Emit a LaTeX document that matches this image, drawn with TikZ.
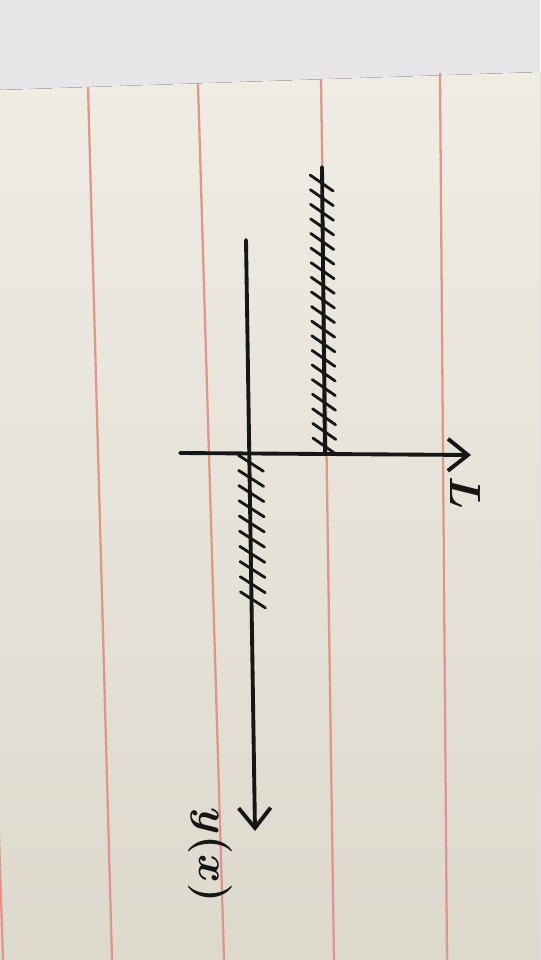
\documentclass[tikz,border=0pt]{standalone}
\usepackage{tikz}
\usepackage{xcolor}
\usetikzlibrary{arrows.meta,calc}

\definecolor{offpaper}{RGB}{231,229,232}
\definecolor{papertop}{RGB}{239,236,228}
\definecolor{paperbot}{RGB}{221,217,205}
\definecolor{marginred}{RGB}{226,150,136}
\definecolor{ink}{RGB}{22,22,22}

\begin{document}
\begin{tikzpicture}[
    x=0.2mm, y=-0.2mm,
    margin/.style={draw=marginred, line width=1.3pt},
    axis/.style={draw=ink, line width=2.2pt, line cap=round},
    hatch/.style={draw=ink, line width=1.6pt, line cap=round},
    tip/.style={-{Straight Barb[length=4mm, width=6.4mm]}},
    lbl/.style={text=ink, rotate=-90, inner sep=0pt}
]
    \useasboundingbox (0,0) rectangle (540,960);
    \clip (0,0) rectangle (540,960);

    \fill[offpaper] (0,0) rectangle (540,960);
    \fill[top color=papertop, bottom color=paperbot] (0,90) -- (540,72) -- (540,960) -- (0,960) -- cycle;

    \draw[margin] (-25,92) -- (3,960);
    \draw[margin] (88,87) -- (112,960);
    \draw[margin] (198,84) -- (224,960);
    \draw[margin] (321,79) -- (334,960);
    \draw[margin] (440,73) -- (447,960);

    \coordinate (xstart) at (180,453);
    \coordinate (xend) at (471,455);
    \coordinate (ystart) at (246,240);
    \coordinate (yend) at (255,831);
    \coordinate (segtop) at (322,167);
    \coordinate (segfoot) at (325,454);

    \draw[axis, tip] (xstart) -- (xend);
    \draw[axis, tip] (ystart) -- (yend);
    \draw[axis] (segtop) -- (segfoot);

    \foreach \i in {0,...,18} {
        \draw[hatch] ($(segtop)!0.056+0.0509*\i!(segfoot)$) ++(-12,-8) -- ++(23,16);
    }
    \foreach \i in {0,...,9} {
        \draw[hatch] ($(ystart)!0.376+0.0257*\i!(yend)$) ++(-11,-7) -- ++(25,16);
    }

    \node[lbl, font=\fontsize{36}{36}\selectfont\boldmath] (llabel) at (465,493) {$L$};
    \node[lbl, font=\fontsize{28}{28}\selectfont\boldmath] (ylabel) at (210,855) {$y(x)$};
\end{tikzpicture}
\end{document}
